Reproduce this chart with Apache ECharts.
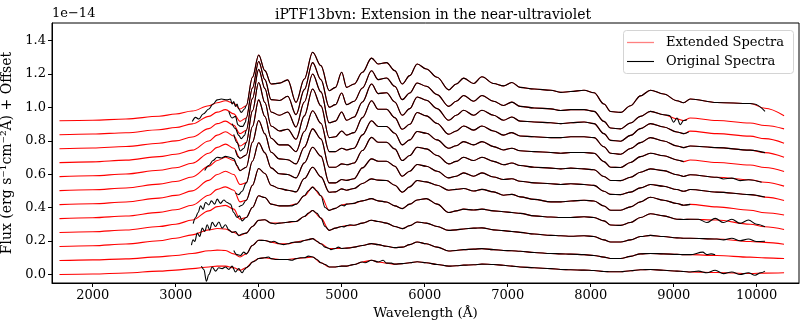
<!DOCTYPE html>
<html><head><meta charset="utf-8">
<script src="https://cdn.jsdelivr.net/npm/echarts@6/dist/echarts.min.js"></script>
<style>html,body{margin:0;padding:0;background:#fff}#c{width:809px;height:329px}</style>
</head><body><div id="c"></div>
<script>
// Common wavelength grid (Angstrom) of the extended (red) spectra
const wavelengths = [1600,2000,2400,2800,3000,3200,3400,3500,3600,3700,3775,3850,3925,4000,4075,4150,4250,4350,4450,4550,4650,4750,4850,4925,5000,5060,5150,5250,5360,5440,5540,5640,5730,5820,5910,6020,6150,6290,6380,6470,6590,6690,6830,6950,7050,7150,7320,7520,7640,7760,7920,8040,8160,8240,8360,8480,8600,8720,8880,9040,9120,9200,9520,9920,10100,10330];
// Vertical offsets of the 12 spectra (units of 1e-14)
const offsets = [0,0.0837,0.1674,0.2511,0.3348,0.4185,0.5022,0.5859,0.6696,0.7533,0.837,0.9207];

// Extended spectra, flux above offset (1e-14), bottom (0) to top (11)
const red0 = [0,.003,.009,.02,.026,.035,.045,.05,.05,.04,.025,.04,.075,.096,.1,.095,.09,.09,.095,.1,.105,.07,.045,.045,.05,.05,.06,.075,.085,.075,.068,.062,.065,.07,.076,.07,.06,.05,.052,.056,.058,.062,.06,.055,.05,.045,.04,.035,.03,.028,.026,.024,.018,.016,.016,.022,.028,.03,.025,.02,.018,.015,.012,.006,.008,.01];
const red1 = [0,.004,.01,.022,.03,.042,.058,.062,.06,.04,.021,.04,.09,.121,.12,.11,.1,.1,.11,.12,.131,.1,.072,.072,.072,.074,.08,.09,.101,.095,.085,.077,.08,.095,.111,.1,.08,.057,.06,.065,.068,.071,.065,.06,.058,.055,.048,.042,.04,.038,.035,.03,.02,.012,.012,.025,.04,.042,.04,.037,.035,.035,.03,.02,.016,.012];
const red2 = [0,.005,.015,.035,.05,.07,.1,.108,.105,.085,.067,.08,.12,.157,.16,.14,.14,.145,.15,.18,.216,.17,.097,.11,.12,.125,.127,.14,.157,.15,.14,.12,.107,.125,.147,.14,.12,.097,.1,.105,.11,.112,.1,.095,.09,.085,.075,.067,.065,.062,.065,.06,.04,.027,.027,.04,.06,.067,.06,.052,.05,.05,.045,.03,.025,.014];
const red3 = [0,.005,.015,.036,.05,.075,.13,.155,.163,.14,.08,.09,.15,.22,.21,.17,.16,.16,.17,.22,.272,.22,.133,.145,.165,.17,.175,.19,.203,.19,.183,.16,.143,.17,.195,.203,.17,.12,.13,.14,.135,.14,.13,.125,.12,.115,.1,.093,.09,.09,.095,.09,.07,.045,.043,.06,.09,.113,.1,.08,.078,.08,.075,.05,.035,.018];
const red4 = [0,.005,.015,.037,.053,.08,.14,.175,.19,.17,.1,.11,.2,.3,.27,.2,.18,.17,.16,.24,.307,.25,.158,.16,.178,.17,.18,.21,.238,.23,.228,.2,.158,.19,.228,.22,.2,.17,.175,.18,.165,.175,.16,.14,.145,.13,.115,.1,.1,.105,.11,.105,.075,.05,.05,.07,.1,.128,.11,.09,.08,.085,.07,.05,.035,.021];
const red5 = [0,.005,.016,.039,.055,.082,.145,.18,.2,.18,.12,.13,.26,.37,.31,.22,.185,.18,.16,.25,.343,.29,.13,.13,.15,.145,.155,.22,.274,.26,.26,.23,.17,.2,.24,.23,.2,.16,.17,.19,.17,.19,.165,.15,.155,.14,.13,.125,.12,.125,.12,.115,.08,.061,.06,.075,.1,.12,.11,.09,.08,.09,.075,.06,.045,.025];
const red6 = [0,.005,.016,.039,.055,.082,.145,.18,.2,.18,.12,.14,.29,.42,.34,.23,.19,.185,.16,.26,.37,.31,.14,.14,.16,.155,.165,.24,.319,.29,.29,.25,.18,.21,.26,.25,.21,.16,.175,.2,.18,.2,.175,.155,.165,.15,.14,.135,.13,.135,.13,.125,.085,.061,.06,.08,.11,.13,.12,.095,.085,.095,.08,.065,.05,.027];
const red7 = [0,.005,.016,.038,.053,.08,.14,.175,.195,.17,.11,.13,.3,.46,.36,.23,.19,.19,.15,.27,.395,.32,.15,.15,.17,.16,.17,.25,.335,.3,.3,.26,.19,.22,.27,.26,.22,.17,.185,.21,.19,.21,.18,.16,.17,.155,.15,.145,.14,.145,.145,.14,.09,.056,.055,.085,.12,.14,.125,.1,.09,.1,.085,.07,.055,.031];
const red8 = [0,.005,.015,.036,.05,.075,.13,.165,.185,.16,.1,.12,.31,.48,.36,.22,.19,.2,.14,.28,.441,.34,.15,.155,.19,.165,.18,.27,.371,.32,.32,.27,.2,.23,.3,.28,.235,.17,.19,.22,.195,.22,.19,.165,.18,.16,.155,.15,.15,.155,.155,.15,.095,.056,.05,.085,.12,.15,.13,.1,.09,.1,.09,.075,.06,.032];
const red9 = [0,.004,.013,.033,.047,.07,.12,.15,.165,.14,.09,.11,.3,.475,.36,.22,.2,.22,.13,.28,.447,.34,.155,.165,.22,.17,.19,.28,.387,.33,.335,.28,.2,.24,.31,.29,.24,.17,.2,.23,.2,.23,.2,.17,.19,.165,.16,.155,.15,.155,.16,.15,.09,.05,.045,.08,.12,.15,.13,.1,.09,.105,.09,.075,.06,.033];
const red10 = [0,.004,.012,.03,.043,.065,.11,.135,.15,.125,.08,.1,.28,.438,.33,.21,.205,.23,.12,.27,.432,.33,.165,.18,.25,.18,.2,.28,.383,.33,.34,.29,.21,.25,.31,.29,.24,.17,.2,.235,.2,.235,.2,.175,.195,.17,.16,.155,.145,.15,.15,.14,.08,.04,.035,.07,.11,.14,.12,.095,.085,.1,.085,.07,.055,.035];
const red11 = [0,.003,.01,.027,.04,.058,.09,.108,.12,.105,.07,.09,.26,.394,.30,.22,.225,.245,.11,.25,.41,.33,.18,.2,.29,.2,.22,.29,.375,.34,.348,.3,.22,.27,.34,.31,.26,.185,.22,.255,.223,.263,.223,.209,.229,.2,.19,.183,.17,.175,.183,.168,.1,.055,.05,.09,.149,.183,.16,.12,.108,.13,.109,.103,.075,.03];

// Original spectra: noisy blue starts [wavelength, flux above offset]
const head0 = [[3310,.05],[3340,.03],[3370,-.04],[3400,0],[3440,.045],[3480,.02],[3520,.04],[3560,.035],[3600,.045],[3640,.03],[3680,.05],[3720,.015],[3760,.035],[3800,.01],[3830,.03]];
const head1 = [[3700,.06],[3740,.035],[3780,.03],[3820,.05]];
const head2 = [[3190,.008],[3210,.04],[3230,.03],[3260,.08],[3290,.06],[3320,.11],[3350,.09],[3380,.13],[3410,.1],[3440,.145],[3480,.12],[3520,.147],[3560,.11],[3600,.13],[3640,.1],[3680,.085],[3720,.09],[3760,.065],[3800,.075]];
const head3 = [[3211,.053],[3240,.09],[3270,.12],[3300,.16],[3330,.14],[3360,.18],[3400,.165],[3430,.19],[3470,.17],[3500,.2],[3540,.175],[3580,.195],[3620,.18],[3660,.17],[3700,.12],[3740,.09],[3770,.1],[3800,.07]];
const head4 = [[3760,.07],[3800,.08]];
const head5 = [[3720,.07],[3760,.06],[3800,.08]];
const head6 = [[3350,.12],[3400,.15],[3450,.18],[3500,.2],[3550,.195],[3600,.205],[3650,.2],[3700,.19],[3740,.15]];
const head7 = [[3720,.16],[3750,.12]];
const head8 = [[3700,.17],[3740,.12],[3780,.07],[3820,.085]];
const head9 = [[3680,.15],[3720,.12],[3760,.08],[3790,.06],[3830,.08]];
const head10 = [[3640,.14],[3680,.1],[3720,.11],[3750,.06],[3780,.05],[3810,.05],[3840,.075]];
const head11 = [[3200,-.005],[3240,.02],[3280,.01],[3330,.04],[3400,.07],[3450,.1],[3500,.125],[3550,.13],[3620,.125],[3660,.13],[3680,.1],[3700,.115],[3720,.085],[3740,.1],[3760,.07],[3790,.05],[3830,.07]];
// Original spectra: small-scale noise in the optical
const mid0 = [[3880,.05],[3950,.08],[4120,.105],[4200,.09],[4400,.085],[4500,.1],[4600,.11],[4700,.09],[4800,.06],[5100,.055],[5280,.07],[5500,.085],[5600,.068]];
const mid1 = [[4180,.115],[4300,.095],[4400,.108],[4500,.11],[4600,.125],[4700,.115],[4800,.08],[4870,.065],[4960,.08],[5100,.075]];
const mid2 = [[4200,.135],[4400,.15],[4600,.2],[4700,.2],[4800,.12],[5030,.118],[5100,.13]];
const mid3 = [[4200,.165],[4400,.16],[4600,.25],[4700,.25],[4800,.15],[5030,.16],[5200,.185]];
// Original spectra: red ends
const tail0 = [[9300,.02],[9400,.01],[9500,.025],[9600,.005],[9700,.015],[9800,0],[9900,.01],[9980,-.005],[10050,.01],[10100,.02]];
const tail1 = [[9350,.05],[9400,.035],[9450,.04],[9500,.035]];
const tail2 = [[9600,.04],[9700,.05],[9800,.035],[9900,.045],[10000,.03],[10100,.032]];
const tail3 = [[9300,.08],[9400,.06],[9500,.085],[9600,.06],[9700,.08],[9800,.055],[9900,.075],[10000,.05],[10100,.035]];
const tail4 = [[9200,.085]];
const tail5 = [[10100,.045]];
const tail6 = [[9600,.07],[9700,.075],[9800,.06],[9900,.065],[10060,.05]];
const tail7 = [[9120,.09]];
const tail8 = [[10100,.06]];
const tail9 = [[9180,.1]];
const tail10 = [[8950,.115],[9000,.075],[9040,.1],[9080,.06],[9120,.085],[9160,.09]];
const tail11 = [[9970,.1],[10100,.056]];

const xTicks = [2000,3000,4000,5000,6000,7000,8000,9000,10000];
const yTicks = [0,0.2,0.4,0.6,0.8,1.0,1.2,1.4];
const legendNames = ['Extended Spectra','Original Spectra'];

const reds = [red0,red1,red2,red3,red4,red5,red6,red7,red8,red9,red10,red11];
const heads = [head0,head1,head2,head3,head4,head5,head6,head7,head8,head9,head10,head11];
const mids = [mid0,mid1,mid2,mid3,[],[],[],[],[],[],[],[]];
const tails = [tail0,tail1,tail2,tail3,tail4,tail5,tail6,tail7,tail8,tail9,tail10,tail11];

const FONT = 'DejaVu Serif';
const series = [];
for (let i = 0; i < reds.length; i++) {
  const off = offsets[i];
  const redData = wavelengths.map((w, k) => [w, reds[i][k] + off]);
  const h = heads[i], t = tails[i];
  const hEnd = h[h.length - 1][0], tStart = t[0][0];
  const pts = h.slice();
  wavelengths.forEach((w, k) => { if (w > hEnd && w < tStart) pts.push([w, reds[i][k]]); });
  mids[i].forEach(p => pts.push(p));
  t.forEach(p => pts.push(p));
  pts.sort((a, b) => a[0] - b[0]);
  const blk = pts.map(p => [p[0], p[1] + off]);
  series.push({name:legendNames[0], type:'line', data:redData, symbol:'none', smooth:0.35, smoothMonotone:'x',
    lineStyle:{color:'#ff0000', width:1.1}, itemStyle:{color:'#ff0000'}, z:2, silent:true});
  series.push({name:legendNames[1], type:'line', data:blk, symbol:'none', smooth:0.35, smoothMonotone:'x',
    lineStyle:{color:'#000000', width:1.1}, itemStyle:{color:'#000000'}, z:3, silent:true});
}

const chart = echarts.init(document.getElementById('c'), null, {renderer:'canvas'});
chart.setOption({
  animation:false,
  backgroundColor:'#ffffff',
  title:{text:'iPTF13bvn: Extension in the near-ultraviolet', left:428, textAlign:'center', top:3,
    textStyle:{fontFamily:FONT, fontSize:14, fontWeight:'normal', color:'#000'}},
  grid:{left:52, right:10, top:23, bottom:46, show:true, borderColor:'#000', borderWidth:1,
    backgroundColor:'transparent', containLabel:false, outerBoundsMode:'none'},
  xAxis:{type:'value', min:1510, max:10510,
    name:'Wavelength (Å)', nameLocation:'middle', nameGap:22,
    nameTextStyle:{fontFamily:FONT, fontSize:13.5, color:'#000'},
    axisLine:{onZero:false, lineStyle:{color:'#000', width:1}},
    axisTick:{customValues:xTicks, length:4, lineStyle:{color:'#000'}},
    axisLabel:{customValues:xTicks, fontFamily:FONT, fontSize:13, color:'#000', margin:6,
      formatter:v => String(v)},
    splitLine:{show:false}},
  yAxis:{type:'value', min:-0.051, max:1.506,
    name:'Flux (erg s⁻¹cm⁻²Å) + Offset', nameLocation:'middle', nameGap:29, nameRotate:90,
    nameTextStyle:{fontFamily:FONT, fontSize:14, color:'#000'},
    axisLine:{onZero:false, show:true, lineStyle:{color:'#000', width:1}},
    axisTick:{show:true, customValues:yTicks, length:4, lineStyle:{color:'#000'}},
    axisLabel:{customValues:yTicks, fontFamily:FONT, fontSize:13, color:'#000', margin:6,
      formatter:v => v.toFixed(1)},
    splitLine:{show:false}},
  graphic:[
    {type:'text', left:52, top:7, style:{text:'1e\u221214', font:'13px "DejaVu Serif"', fill:'#000'}},
    {type:'rect', shape:{x:623.5, y:30.5, width:170, height:43, r:3}, style:{fill:'#fff', stroke:'#d4d4d4', lineWidth:1}, z:100},
    {type:'line', shape:{x1:627, y1:42.5, x2:654, y2:42.5}, style:{stroke:'#ff8080', lineWidth:1.3}, z:101},
    {type:'line', shape:{x1:627, y1:61.5, x2:654, y2:61.5}, style:{stroke:'#000', lineWidth:1.1}, z:101},
    {type:'text', x:666, y:42.5, style:{text:legendNames[0], font:'13px "DejaVu Serif"', fill:'#000', verticalAlign:'middle'}, z:101},
    {type:'text', x:666, y:61.5, style:{text:legendNames[1], font:'13px "DejaVu Serif"', fill:'#000', verticalAlign:'middle'}, z:101}
  ],
  series: series
});
</script>
</body></html>
